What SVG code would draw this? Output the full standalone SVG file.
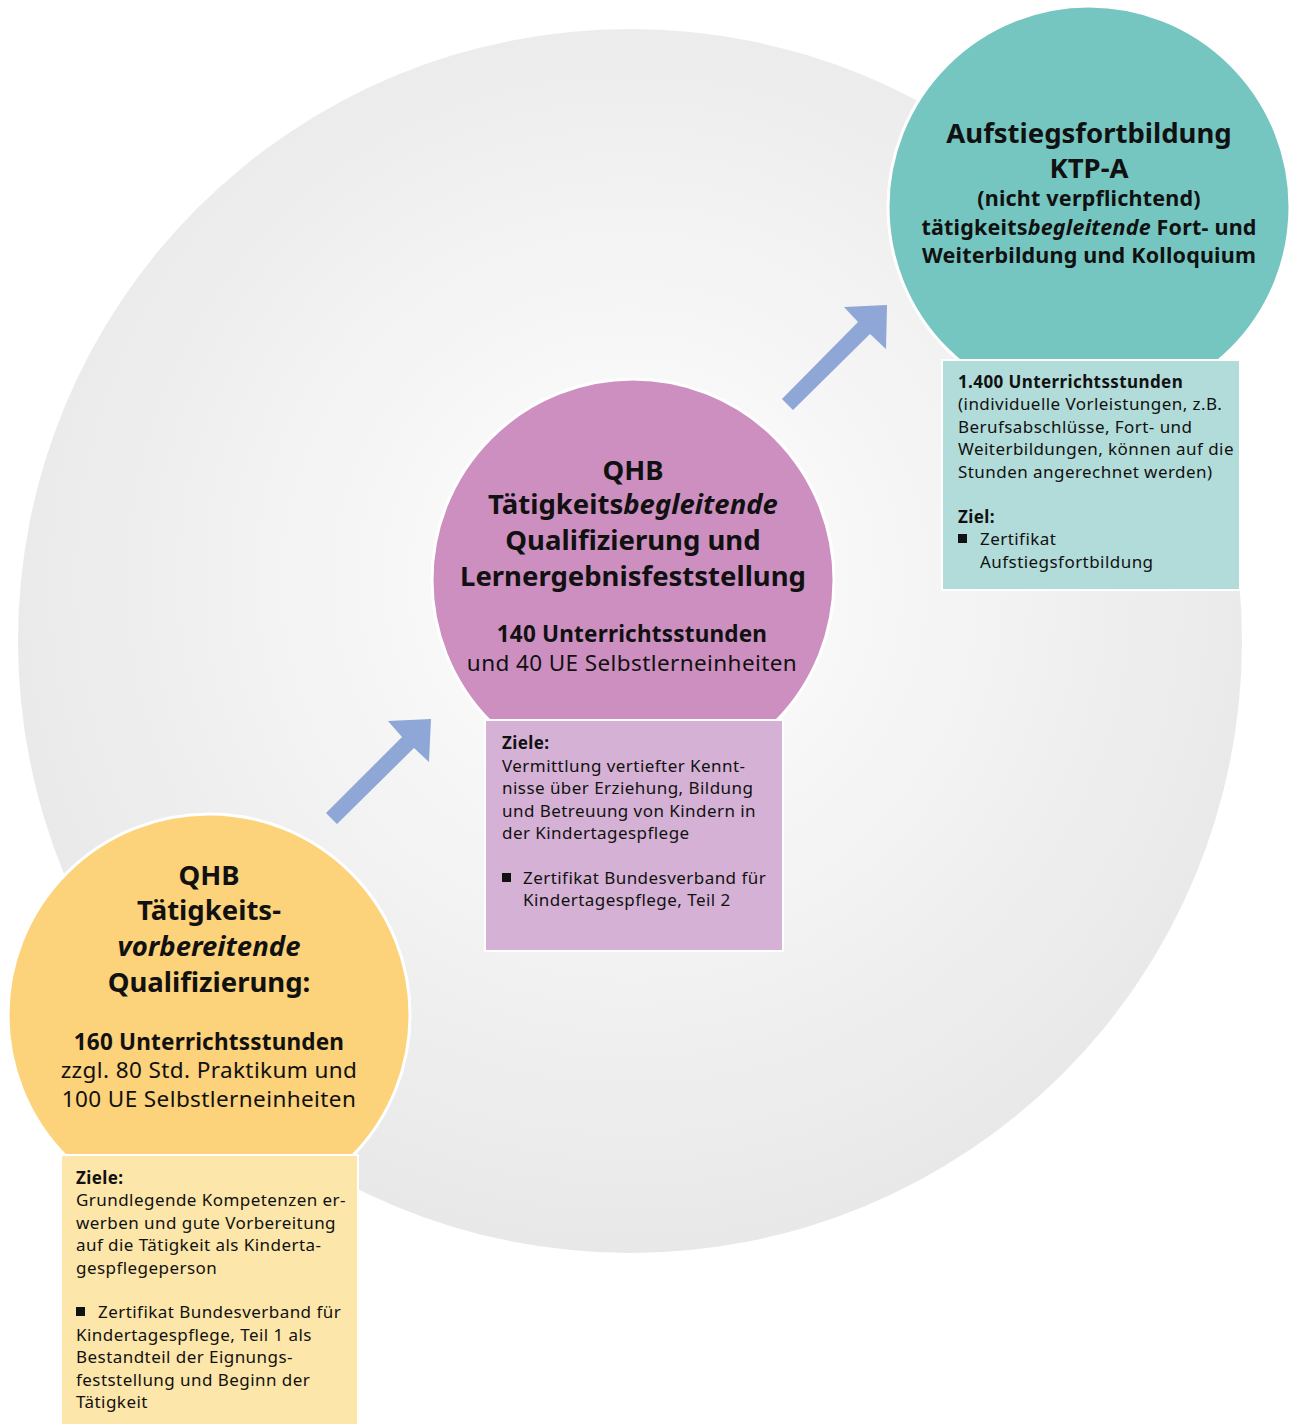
<svg xmlns="http://www.w3.org/2000/svg" width="1298" height="1424" viewBox="0 0 1298 1424">
<defs>
<radialGradient id="bg" cx="0.5" cy="0.45" r="0.55">
<stop offset="0" stop-color="#ffffff"/>
<stop offset="1" stop-color="#e8e8e8"/>
</radialGradient>
<style>
text{font-family:"Noto Sans","Open Sans",sans-serif;fill:#111}
.c{text-anchor:middle}
.h{font-weight:bold;font-size:27.5px}
.s{font-size:22.5px;letter-spacing:0.4px}
.sb{font-size:22.5px;font-weight:bold;letter-spacing:0.2px}
.sk{font-size:21.5px;font-weight:bold;letter-spacing:0.2px}
.t{font-size:17px;letter-spacing:0.45px}
.tb{font-size:17px;font-weight:bold;letter-spacing:0.4px}
.node{stroke:#fff;stroke-width:3}
.box{stroke:#fff;stroke-width:2}
.arrow{fill:#8ea7d6}
</style>
</defs>
<rect width="1298" height="1424" fill="#fff"/>
<circle cx="630" cy="641" r="612" fill="url(#bg)"/>

<g id="connectors">
<polygon class="arrow" points="326,813 402,737 388,721 431,719 429,762 414,748 337,824"/>
<polygon class="arrow" points="782,399 858,322 844,307 887,305 886,349 870,334 793,410"/>
</g>

<g id="node-ktpa">
<circle class="node" cx="1089" cy="207" r="201" fill="#75c6c1"/>
<text class="c h" x="1089" y="143">Aufstiegsfortbildung</text>
<text class="c h" x="1089" y="178">KTP-A</text>
<text class="c sk" x="1089" y="206">(nicht verpflichtend)</text>
<text class="c sk" x="1089" y="235">tätigkeits<tspan font-style="italic">begleitende</tspan> Fort- und</text>
<text class="c sk" x="1089" y="263">Weiterbildung und Kolloquium</text>
</g>
<g id="box-ktpa">
<rect class="box" x="942" y="360" width="298" height="230" fill="#b1dcd9"/>
<text class="tb" x="958" y="388">1.400 Unterrichtsstunden</text>
<text class="t" x="958" y="410">(individuelle Vorleistungen, z.B.</text>
<text class="t" x="958" y="433">Berufsabschlüsse, Fort- und</text>
<text class="t" x="958" y="455">Weiterbildungen, können auf die</text>
<text class="t" x="958" y="478">Stunden angerechnet werden)</text>
<text class="tb" x="958" y="523">Ziel:</text>
<rect x="958" y="534" width="9" height="9" fill="#111"/>
<text class="t" x="980" y="545">Zertifikat</text>
<text class="t" x="980" y="568">Aufstiegsfortbildung</text>
</g>

<g id="node-begleitend">
<circle class="node" cx="633" cy="580" r="201" fill="#cc8fc0"/>
<text class="c h" x="633" y="480">QHB</text>
<text class="c h" x="633" y="514">Tätigkeits<tspan font-style="italic">begleitende</tspan></text>
<text class="c h" x="633" y="550">Qualifizierung und</text>
<text class="c h" x="633" y="586">Lernergebnisfeststellung</text>
<text class="c sb" x="632" y="642">140 Unterrichtsstunden</text>
<text class="c s" x="632" y="671">und 40 UE Selbstlerneinheiten</text>
</g>
<g id="box-begleitend">
<rect class="box" x="485" y="720" width="298" height="231" fill="#d5b1d5"/>
<text class="tb" x="502" y="749">Ziele:</text>
<text class="t" x="502" y="772">Vermittlung vertiefter Kennt-</text>
<text class="t" x="502" y="794">nisse über Erziehung, Bildung</text>
<text class="t" x="502" y="817">und Betreuung von Kindern in</text>
<text class="t" x="502" y="839">der Kindertagespflege</text>
<rect x="502" y="873" width="9" height="9" fill="#111"/>
<text class="t" x="523" y="884">Zertifikat Bundesverband für</text>
<text class="t" x="523" y="906">Kindertagespflege, Teil 2</text>
</g>

<g id="node-vorbereitend">
<circle class="node" cx="209" cy="1015" r="201" fill="#fcd27a"/>
<text class="c h" x="209" y="885">QHB</text>
<text class="c h" x="209" y="920">Tätigkeits-</text>
<text class="c h" x="209" y="956" font-style="italic">vorbereitende</text>
<text class="c h" x="209" y="992">Qualifizierung:</text>
<text class="c sb" x="209" y="1050">160 Unterrichtsstunden</text>
<text class="c s" x="209" y="1078">zzgl. 80 Std. Praktikum und</text>
<text class="c s" x="209" y="1107">100 UE Selbstlerneinheiten</text>
</g>
<g id="box-vorbereitend">
<rect class="box" x="61" y="1155" width="297" height="272" fill="#fce6a9"/>
<text class="tb" x="76" y="1184">Ziele:</text>
<text class="t" x="76" y="1206">Grundlegende Kompetenzen er-</text>
<text class="t" x="76" y="1229">werben und gute Vorbereitung</text>
<text class="t" x="76" y="1251">auf die Tätigkeit als Kinderta-</text>
<text class="t" x="76" y="1274">gespflegeperson</text>
<rect x="76" y="1307" width="9" height="9" fill="#111"/>
<text class="t" x="98" y="1318">Zertifikat Bundesverband für</text>
<text class="t" x="76" y="1341">Kindertagespflege, Teil 1 als</text>
<text class="t" x="76" y="1363">Bestandteil der Eignungs-</text>
<text class="t" x="76" y="1386">feststellung und Beginn der</text>
<text class="t" x="76" y="1408">Tätigkeit</text>
</g>
</svg>
